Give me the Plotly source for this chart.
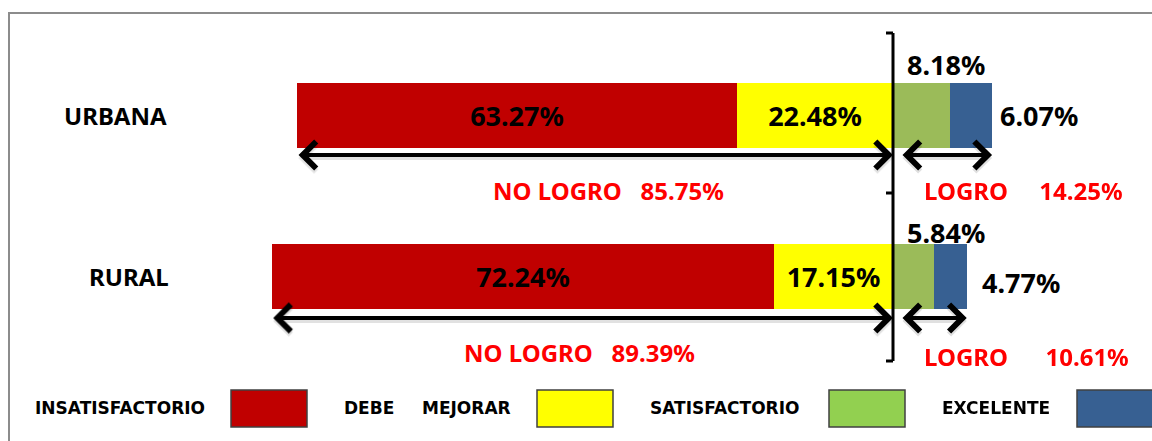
import plotly.graph_objects as go

# ---------------- data ----------------
zones = ["URBANA", "RURAL"]
insatisfactorio = [63.27, 72.24]
debe_mejorar = [22.48, 17.15]
satisfactorio = [8.18, 5.84]
excelente = [6.07, 4.77]
no_logro = [85.75, 89.39]
logro = [14.25, 10.61]

series_names = ["INSATISFACTORIO", "DEBE MEJORAR", "SATISFACTORIO", "EXCELENTE"]
bar_colors = {"INSATISFACTORIO": "#C00000", "DEBE MEJORAR": "#FFFF00",
              "SATISFACTORIO": "#9BBB59", "EXCELENTE": "#376092"}
legend_colors = {"INSATISFACTORIO": "#C00000", "DEBE MEJORAR": "#FFFF00",
                 "SATISFACTORIO": "#92D050", "EXCELENTE": "#376092"}

# ---------------- layout geometry ----------------
W, H = 1152, 441
ZERO_PX = 893          # pixel of the 0 % line
PPU = 6.95            # pixels per percentage unit
ROW0_PX, ROW_STEP = 115.5, 161.0
XR = [-ZERO_PX / PPU, (W - ZERO_PX) / PPU]
YR = [(H - ROW0_PX) / ROW_STEP, -ROW0_PX / ROW_STEP]

def px(v):   # pixel distance -> x data units
    return v / PPU

def py(v):   # pixel from top -> paper y
    return 1 - v / H

FONT = "Noto Sans"

fig = go.Figure()

def fmt(v):
    return f"{v:.2f}%"

numfont = dict(family=FONT, size=27, color="#000000", weight="bold")

# negative side: yellow (nearest 0) then red
fig.add_trace(go.Bar(
    y=zones, x=[-v for v in debe_mejorar], orientation="h", name="DEBE MEJORAR",
    marker=dict(color=bar_colors["DEBE MEJORAR"], line=dict(width=0)),
    text=[fmt(v) for v in debe_mejorar], textposition="inside",
    insidetextanchor="middle", constraintext="none", textangle=0,
    textfont=numfont, width=0.4))
fig.add_trace(go.Bar(
    y=zones, x=[-v for v in insatisfactorio], orientation="h", name="INSATISFACTORIO",
    marker=dict(color=bar_colors["INSATISFACTORIO"], line=dict(width=0)),
    text=[fmt(v) for v in insatisfactorio], textposition="inside",
    insidetextanchor="middle", constraintext="none", textangle=0,
    textfont=numfont, width=0.4))
fig.add_trace(go.Bar(
    y=zones, x=satisfactorio, orientation="h", name="SATISFACTORIO",
    marker=dict(color=bar_colors["SATISFACTORIO"], line=dict(width=0)), width=0.4))
fig.add_trace(go.Bar(
    y=zones, x=excelente, orientation="h", name="EXCELENTE",
    marker=dict(color=bar_colors["EXCELENTE"], line=dict(width=0)), width=0.4))

annotations = []
shapes = []

# category labels
cat_x_center = [115, 129]
for i, z in enumerate(zones):
    annotations.append(dict(x=cat_x_center[i] / W, xref="paper", y=i, yref="y",
                            text=z, showarrow=False, xanchor="center", yanchor="middle",
                            font=dict(family=FONT, size=24, color="#000000", weight="bold")))

# green (satisfactorio) labels above the bar, blue (excelente) labels right of bar
green_yshift = [51.5, 44.5]
blue_xshift = [6, 13]
blue_yshift = [0, -5.5]
for i in range(len(zones)):
    annotations.append(dict(x=0, y=i, xref="x", yref="y", text=fmt(satisfactorio[i]),
                            showarrow=False, xanchor="left", yanchor="middle",
                            xshift=12, yshift=green_yshift[i], font=numfont))
    annotations.append(dict(x=satisfactorio[i] + excelente[i], y=i, xref="x", yref="y",
                            text=fmt(excelente[i]), showarrow=False, xanchor="left",
                            yanchor="middle", xshift=blue_xshift[i], yshift=blue_yshift[i],
                            font=numfont))

# arrows
arrow_yshift = [-39.5, -41.5]
for i in range(len(zones)):
    segs = [(-no_logro[i], 0), (px(8), logro[i])]
    for (a0, a1) in segs:
        for shadow in (True, False):
            annotations.append(dict(
                x=a1, y=i, ax=a0, ay=i, xref="x", yref="y", axref="x", ayref="y",
                text="", showarrow=True, arrowside="end+start",
                arrowhead=4, startarrowhead=4, arrowsize=1.3, startarrowsize=1.3,
                arrowwidth=4,
                arrowcolor="rgba(0,0,0,0.12)" if shadow else "#000000",
                yshift=arrow_yshift[i] - (3 if shadow else 0)))

# NO LOGRO / LOGRO labels
redfont = dict(family=FONT, size=24, color="#FF0000", weight="bold")
nolog_xshift = [13, -3]
nolog_yshift = [-74.5, -75.5]
log_yshift = [-74.5, -79.5]
log_gap = ["\u00a0" * 5, "\u00a0" * 6]
for i in range(len(zones)):
    annotations.append(dict(x=-no_logro[i] / 2, y=i, xref="x", yref="y",
                            text="NO LOGRO" + "\u00a0" * 3 + fmt(no_logro[i]),
                            showarrow=False, xanchor="center", yanchor="middle",
                            xshift=nolog_xshift[i], yshift=nolog_yshift[i], font=redfont))
    annotations.append(dict(x=0, y=i, xref="x", yref="y",
                            text="LOGRO" + log_gap[i] + fmt(logro[i]),
                            showarrow=False, xanchor="left", yanchor="middle",
                            xshift=29, yshift=log_yshift[i], font=redfont))

# bracket at 0
shapes.append(dict(type="line", xref="x", yref="paper", x0=0, x1=0,
                   y0=py(33), y1=py(361), line=dict(color="#000000", width=3)))
for ty in (33, 193, 361):
    shapes.append(dict(type="line", xref="x", yref="paper", x0=-px(7), x1=0,
                       y0=py(ty), y1=py(ty), line=dict(color="#000000", width=3)))

# outer frame (left + top visible)
shapes.append(dict(type="path", xref="paper", yref="paper",
                   path=f"M {9/W},0 L {9/W},{py(13)} L 1,{py(13)}",
                   line=dict(color="#8C8C8C", width=2)))

# manual legend
legend_text_x = {"INSATISFACTORIO": 33, "SATISFACTORIO": 648, "EXCELENTE": 940}
legend_box_x = {"INSATISFACTORIO": 231, "DEBE MEJORAR": 537, "SATISFACTORIO": 829, "EXCELENTE": 1077}
LEG_Y = 408
for name in series_names:
    bx = legend_box_x[name]
    shapes.append(dict(type="rect", xref="paper", yref="paper",
                       x0=bx / W, x1=(bx + 76) / W, y0=py(427), y1=py(390),
                       fillcolor=legend_colors[name], line=dict(color="#404040", width=1.5)))
lfont = dict(family="DejaVu Sans", size=17, color="#000000", weight="bold")
for name, tx in legend_text_x.items():
    annotations.append(dict(x=tx / W, y=py(LEG_Y), xref="paper", yref="paper", text=name,
                            showarrow=False, xanchor="left", yanchor="middle", font=lfont))
annotations.append(dict(x=342 / W, y=py(LEG_Y), xref="paper", yref="paper", text="DEBE",
                        showarrow=False, xanchor="left", yanchor="middle", font=lfont))
annotations.append(dict(x=420 / W, y=py(LEG_Y), xref="paper", yref="paper", text="MEJORAR",
                        showarrow=False, xanchor="left", yanchor="middle", font=lfont))

fig.update_layout(
    width=W, height=H, barmode="relative", bargap=0,
    margin=dict(l=0, r=0, t=0, b=0),
    paper_bgcolor="#FFFFFF", plot_bgcolor="#FFFFFF",
    showlegend=False,
    xaxis=dict(range=XR, visible=False, fixedrange=True),
    yaxis=dict(range=YR, visible=False, type="category", categoryorder="array",
               categoryarray=zones, fixedrange=True),
    annotations=annotations, shapes=shapes,
    font=dict(family=FONT),
)
for tr in fig.data:
    tr.cliponaxis = False

fig.write_html(
    "out.html",
    config={"displayModeBar": False},
    post_script="document.body.style.margin='0';document.body.style.overflow='hidden';",
)
